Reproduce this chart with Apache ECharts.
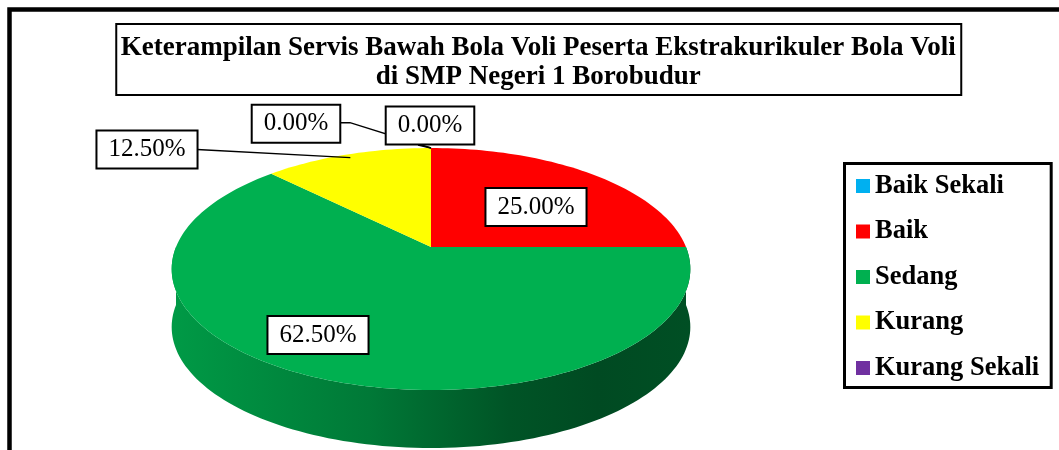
<!DOCTYPE html>
<html><head><meta charset="utf-8">
<script src="https://cdn.jsdelivr.net/npm/echarts@6/dist/echarts.min.js"></script>
<style>html,body{margin:0;padding:0;background:#fff}#c{width:1059px;height:450px}</style>
</head><body><div id="c"></div>
<script>
// ---------- data ----------
const categories = ['Baik Sekali', 'Baik', 'Sedang', 'Kurang', 'Kurang Sekali'];
const percentages = [0, 25, 62.5, 12.5, 0];
const colors = ['#00b0f0', '#ff0000', '#00b050', '#ffff00', '#7030a0'];
const titleLines = ['Keterampilan Servis Bawah Bola Voli Peserta Ekstrakurikuler Bola Voli', 'di SMP Negeri 1 Borobudur'];

// ---------- layout / style ----------
const SERIF = '"Liberation Serif", "Times New Roman", serif';
const PIE = { cx: 431, cy: 247, rx: 255, ry: 117, k: 0.182, depth: 58 };
// label boxes (centre) and leader lines; 'edge' = slice boundary point on rim, 'mid' = rim point at mid angle
const labelLayout = [
  { box: [430, 125.5], line: [[418, 145], 'edge'] },
  { box: [536, 207] },
  { box: [318, 335] },
  { box: [147, 149.5], line: [[197, 149.5], 'mid'] },
  { box: [296, 123.7], line: [[339, 122.7], [350, 122.7], 'edge'] }
];
const sideStops = [[0, 0.875], [0.38, 0.69], [0.65, 0.48], [0.82, 0.42], [1, 0.45]];

function proj(theta, f) {
  const t = theta * Math.PI / 180;
  const x = f * Math.sin(t), z = f * Math.cos(t);
  const w = 1 + PIE.k * z;
  return [PIE.cx + PIE.rx * x / w, PIE.cy - PIE.ry * z / w];
}
function shade(hex, f) {
  const n = parseInt(hex.slice(1), 16);
  const r = Math.round(((n >> 16) & 255) * f), g = Math.round(((n >> 8) & 255) * f), b = Math.round((n & 255) * f);
  return 'rgb(' + r + ',' + g + ',' + b + ')';
}
const total = percentages.reduce((a, b) => a + b, 0);

function makeRender(i) {
  return function (params, api) {
    const v = api.value(0);
    let start = 0;
    for (let j = 0; j < i; j++) start += percentages[j];
    const a0 = start / total * 360, a1 = (start + v) / total * 360;
    const children = [];
    const color = colors[i];
    if (v > 0) {
      // side wall (front half only)
      const s0 = Math.max(a0, 90), s1 = Math.min(a1, 270);
      if (s1 > s0) {
        const topPts = [], botPts = [];
        const n = Math.max(8, Math.ceil((s1 - s0) / 1.5));
        for (let s = 0; s <= n; s++) {
          const p = proj(s0 + (s1 - s0) * s / n, 1);
          topPts.push(p);
          botPts.push([p[0], p[1] + PIE.depth]);
        }
        const pts = topPts.concat(botPts.reverse());
        const left = PIE.cx - PIE.rx * 1.02, right = PIE.cx + PIE.rx * 1.02;
        children.push({
          type: 'polygon', z2: 1, shape: { points: pts },
          style: {
            fill: new echarts.graphic.LinearGradient(left, 0, right, 0,
              sideStops.map(s => ({ offset: s[0], color: shade(color, s[1]) })), true),
            stroke: null
          }
        });
      }
      // top face
      const pts = [proj(0, 0)];
      const n = Math.max(4, Math.ceil((a1 - a0) / 1.5));
      for (let s = 0; s <= n; s++) pts.push(proj(a0 + (a1 - a0) * s / n, 1));
      children.push({ type: 'polygon', z2: 5, shape: { points: pts }, style: { fill: color, stroke: null } });
    }
    // label + leader line
    const lay = labelLayout[i];
    if (lay.line) {
      const pts = lay.line.map(p => p === 'edge' ? proj(a0, 1) : p === 'mid' ? proj((a0 + a1) / 2, 0.96) : p);
      children.push({ type: 'polyline', z2: 15, shape: { points: pts }, style: { stroke: '#000', lineWidth: 1.4, fill: null } });
    }
    children.push({
      type: 'text', z2: 20,
      style: {
        text: (v / total * 100).toFixed(2) + '%', x: lay.box[0], y: lay.box[1],
        align: 'center', verticalAlign: 'middle',
        fontFamily: SERIF, fontSize: 25, fill: '#000',
        backgroundColor: '#fff', borderColor: '#000', borderWidth: 2,
        padding: [5, 11, 4, 11], lineHeight: 27
      }
    });
    return { type: 'group', children };
  };
}

// title box sizing
function measure(txt, font) {
  const c = document.createElement('canvas').getContext('2d');
  c.font = font; return c.measureText(txt).width;
}
const titleFont = 'bold 27px ' + SERIF;
const titleW = Math.max(...titleLines.map(t => measure(t, titleFont)));
const titleBoxL = 115.5, titleBoxR = 961;
const titlePadH = Math.max(2, (titleBoxR - titleBoxL - titleW) / 2);
const titleCenter = (titleBoxL + titleBoxR) / 2;

const chart = echarts.init(document.getElementById('c'), null, { renderer: 'canvas' });
chart.setOption({
  animation: false,
  backgroundColor: '#fff',
  textStyle: { fontFamily: SERIF },
  title: {
    text: titleLines.join('\n'),
    textAlign: 'center',
    left: titleCenter - titlePadH,
    top: 23.5,
    padding: [9.5, titlePadH, 3, titlePadH],
    borderColor: '#000', borderWidth: 2,
    textStyle: { fontFamily: SERIF, fontWeight: 'bold', fontSize: 27, lineHeight: 29.5, color: '#000' }
  },
  legend: {
    orient: 'vertical', left: 844.5, top: 163.5,
    icon: 'rect', itemWidth: 14, itemHeight: 14, itemGap: 18.5,
    padding: [9, 12, 6, 11.5],
    borderColor: '#000', borderWidth: 3,
    selectedMode: false,
    data: categories,
    textStyle: { fontFamily: SERIF, fontWeight: 'bold', fontSize: 26.5, lineHeight: 26, color: '#000' }
  },
  graphic: [{
    type: 'rect', silent: true, z: -1,
    shape: { x: 9.5, y: 9.5, width: 1200, height: 600 },
    style: { fill: null, stroke: '#000', lineWidth: 4.5 }
  }],
  series: categories.map((name, i) => ({
    type: 'custom', name, coordinateSystem: 'none', silent: true,
    data: [[percentages[i]]],
    itemStyle: { color: colors[i] },
    renderItem: makeRender(i)
  }))
});
</script></body></html>
